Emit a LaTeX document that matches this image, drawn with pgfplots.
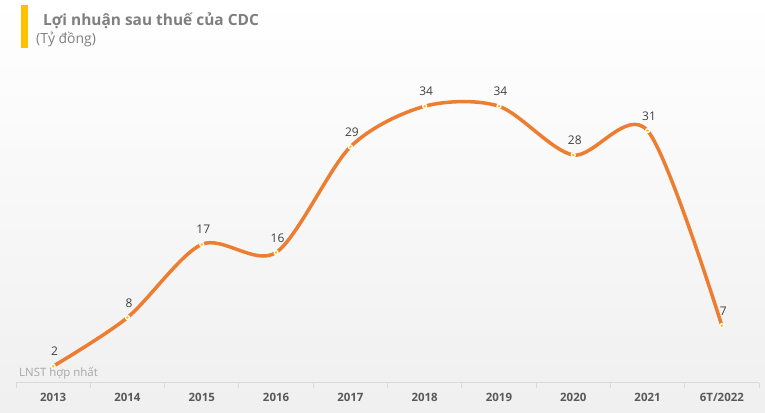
\documentclass[border=0pt]{standalone}
\usepackage{fontspec}
\setmainfont{Open Sans}
\usepackage{pgfplots}
\pgfplotsset{compat=1.18}
\definecolor{lineor}{HTML}{ED7D31}
\definecolor{baror}{HTML}{FFC000}
\definecolor{titlegray}{HTML}{7F7F7F}
\definecolor{labgray}{HTML}{404040}
\definecolor{tickgray}{HTML}{595959}
\definecolor{notegray}{HTML}{A6A6A6}
\definecolor{axgray}{HTML}{D9D9D9}
\begin{document}
\begin{tikzpicture}[x=1bp,y=1bp]
\shade[top color=white, bottom color=black!6, middle color=white!97!black] (0,0) rectangle (765,412);
\fill[baror] (21,364) rectangle (28,407);
\node[anchor=base west, inner sep=0, font=\bfseries\fontsize{15.5}{17}\selectfont, text=titlegray] at (43,387) {Lợi nhuận sau thuế của CDC};
\node[anchor=base west, inner sep=0, font=\fontsize{14}{16}\selectfont, text=titlegray] at (36,368.5) {(Tỷ đồng)};
\node[anchor=base west, inner sep=0, font=\fontsize{11.5}{13}\selectfont, text=notegray] at (19,35.3) {LNST hợp nhất};
\begin{axis}[
  at={(16bp,29.5bp)}, anchor=south west, scale only axis,
  width=743bp, height=325bp,
  xmin=-0.5, xmax=9.5, ymin=0, ymax=40,
  hide y axis,
  axis x line*=bottom,
  axis line style={draw=axgray, line width=1bp, -},
  xtick={0,...,9},
  xticklabels={2013,2014,2015,2016,2017,2018,2019,2020,2021,6T/2022},
  major tick length=0pt,
  minor xtick={-0.5,0.5,...,9.5},
  minor tick length=5bp,
  tick align=outside,
  minor tick style={draw=axgray, line width=1bp},
  xticklabel style={font=\bfseries\fontsize{11.5}{13}\selectfont, text=tickgray, anchor=base, inner sep=0pt, yshift=-18.5bp},
  clip=false,
  nodes near coords,
  nodes near coords style={font=\fontsize{12}{14}\selectfont, text=labgray, anchor=base, inner sep=0pt, yshift=10.5bp, xshift=1.5bp},
  /pgf/number format/assume math mode=true,
]
\addplot[lineor, line width=3.5bp, smooth, tension=0.5, mark=*, mark size=2bp,
  mark options={fill=baror, draw=white, line width=1.2bp}]
  coordinates {(0,2) (1,8) (2,17) (3,16) (4,29) (5,34) (6,34) (7,28) (8,31) (9,7)};
\end{axis}
\pgfresetboundingbox
\useasboundingbox (0,0) rectangle (765,412);
\end{tikzpicture}
\end{document}
